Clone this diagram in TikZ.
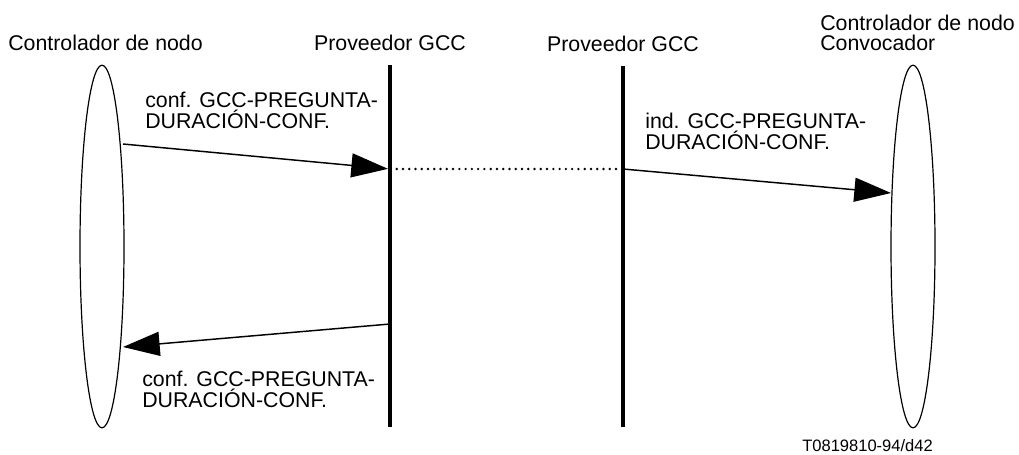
\documentclass[tikz,border=0pt]{standalone}
\usepackage{fontspec}
\setmainfont{Liberation Sans}
\usetikzlibrary{arrows.meta, positioning, shapes.geometric}

\begin{document}
\begin{tikzpicture}[x=0.75pt, y=-0.75pt,
        ent/.style={ellipse, draw, line width=0.9pt, inner sep=0pt,
                    minimum width=33pt, minimum height=272pt},
        life/.style={line width=3pt},
        msg/.style={-{Triangle[length=27.5pt,width=18pt]}, line width=1.1pt},
        lab/.style={font=\fontsize{16}{14}\selectfont, align=left, inner sep=0pt},
        hdr/.style={font=\fontsize{16}{15}\selectfont, align=left, inner sep=0pt},
        node distance=10.5pt]
  \useasboundingbox (0,0) rectangle (1019,454);
  % controladores de nodo
  \node[ent] (cn) at (102,246.5) {};
  \node[ent] (cc) at (913,246.5) {};
  % proveedores GCC
  \coordinate (p1t) at (390,65);
  \coordinate (p1b) at (390,427);
  \coordinate (p2t) at (623,66);
  \coordinate (p2b) at (623,427);
  \draw[life] (p1t) -- (p1b);
  \draw[life] (p2t) -- (p2b);
  % cabeceras (base = linea de base de la ultima linea)
  \node[hdr, anchor=base west] (hcn) at (8,50) {Controlador de nodo};
  \node[hdr, above=of p1t] (hp1) {Proveedor GCC};
  \node[hdr, above=of p2t] (hp2) {Proveedor GCC};
  \node[hdr, anchor=base west] (hcc) at (820,50) {Controlador de nodo\\Convocador};
  % primitivas
  \coordinate (a1) at (123,144);
  \coordinate (d1) at (390,169);
  \coordinate (d2) at (623,169);
  \coordinate (b2) at (891,193);
  \coordinate (r1) at (390,324);
  \coordinate (r2) at (123,347);
  \draw[msg, shorten >=1.5pt] (a1) -- (d1);
  \draw[line width=2pt, line cap=round, dash pattern=on 0pt off 4.7pt,
        shorten <=5pt, shorten >=4pt] (d1) -- (d2);
  \draw[msg] (d2) -- (b2);
  \draw[msg, shorten <=1.5pt] (r1) -- (r2);
  \node[lab, anchor=base west] (m1) at (145,128) {conf. GCC-PREGUNTA-\\DURACIÓN-CONF.};
  \node[lab, anchor=base west] (m2) at (645,149) {ind. GCC-PREGUNTA-\\DURACIÓN-CONF.};
  \node[lab, anchor=base west] (m3) at (142,407) {conf. GCC-PREGUNTA-\\DURACIÓN-CONF.};
  \node[font=\fontsize{12.4}{14}\selectfont, inner sep=0pt, anchor=base west] (ref) at (802,451) {T0819810-94/d42};
\end{tikzpicture}
\end{document}
